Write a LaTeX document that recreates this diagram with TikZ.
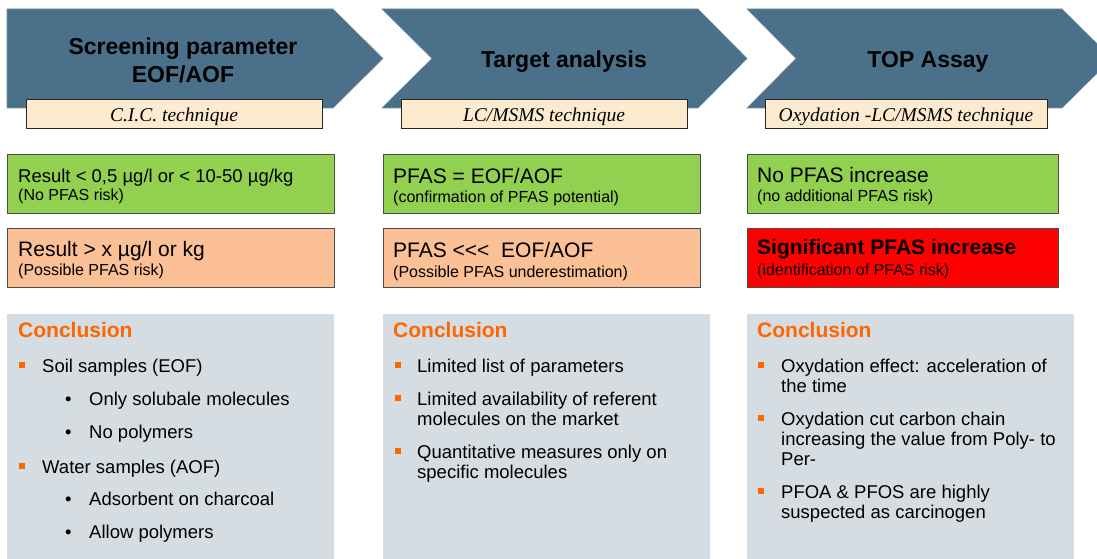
\documentclass[tikz,border=0pt]{standalone}
\usepackage{fontspec}
\setmainfont{Liberation Sans}
\newfontfamily\techfont{Liberation Serif}
\usetikzlibrary{positioning}
\definecolor{chevblue}{RGB}{74,112,138}
\definecolor{techbeige}{RGB}{253,235,208}
\definecolor{okgreen}{RGB}{146,208,80}
\definecolor{riskorange}{RGB}{251,192,150}
\definecolor{riskred}{RGB}{255,0,0}
\definecolor{concgray}{RGB}{213,221,226}
\definecolor{concorange}{RGB}{255,102,0}

\begin{document}
\begin{tikzpicture}[x=1pt, y=-1pt,
    chev/.style ={
        fill=chevblue,
        draw=chevblue!80!white,
        line width=0.6pt
    },
    title/.style ={
        font=\bfseries\fontsize{23}{28}\selectfont,
        align=center,
        anchor=base
    },
    techbox/.style ={
        fill=techbeige,
        draw=black!85,
        line width=0.8pt,
        anchor=north west,
        inner sep=0pt,
        minimum height=29pt
    },
    techtext/.style ={
        font=\techfont\itshape\fontsize{19.5}{22}\selectfont,
        anchor=base
    },
    resbox/.style ={
        draw=black!70,
        line width=0.8pt,
        anchor=north west,
        inner sep=0pt,
        minimum height=59pt
    },
    bigline/.style ={
        font=\fontsize{21}{24}\selectfont,
        anchor=base west,
        inner sep=0pt
    },
    smallline/.style ={
        font=\fontsize{16}{18}\selectfont,
        anchor=base west,
        inner sep=0pt
    },
    concbox/.style ={
        fill=concgray,
        anchor=north west,
        inner sep=0pt,
        minimum width=327pt,
        minimum height=248pt
    },
    conchead/.style ={
        font=\bfseries\fontsize{21}{24}\selectfont,
        text=concorange,
        anchor=base west,
        inner sep=0pt
    },
    sqbullet/.style ={
        fill=concorange,
        minimum size=6pt,
        inner sep=0pt
    },
    item/.style ={
        font=\fontsize{18.5}{20}\selectfont,
        align=left,
        anchor=base west,
        inner sep=0pt
    }
    ]
    \clip (0,0) rectangle (1097,559);

    % process chevrons
    \draw[chev] (7,9) -- (333,9) -- (383,58.5) -- (333,108) -- (7,108) -- cycle;
    \draw[chev] (382,9) -- (698,9) -- (747,58.5) -- (698,108) -- (382,108) -- (432,58.5) -- cycle;
    \draw[chev] (747,9) -- (1062,9) -- (1112,58.5) -- (1062,108) -- (747,108) -- (796,58.5) -- cycle;

    % base of a multi-line node is its last line
    \node[title] (screen) at (183,83) {Screening parameter\\EOF/AOF};
    \node[title] (target) at (564,68) {Target analysis};
    \node[title] (top) at (928,68) {TOP Assay};

    % techniques
    \foreach \name/\x/\w/\cx/\txt in {cic/26/296/174/{C.I.C. technique},
                                      lc/401/286/544/{LC/MSMS technique},
                                      ox/765/282/906/{Oxydation -LC/MSMS technique}}
    {
        \node[techbox, minimum width=\w pt] (\name) at (\x,99) {};
        \node[techtext] (\name txt) at (\cx,122) {\txt};
    }

    % results
    \node[resbox, fill=okgreen, minimum width=327pt] (ok1) at (7,154) {};
    \node[resbox, fill=riskorange, minimum width=327pt] (risk1) at (7,228) {};
    \node[resbox, fill=okgreen, minimum width=317pt] (ok2) at (383,154) {};
    \node[resbox, fill=riskorange, minimum width=317pt] (risk2) at (383,228) {};
    \node[resbox, fill=okgreen, minimum width=311pt] (ok3) at (747,154) {};
    \node[resbox, fill=riskred, minimum width=311pt] (risk3) at (747,228) {};

    \node[bigline, font=\fontsize{18.5}{20}\selectfont] (ok1a) at (18,182) {Result < 0,5 µg/l or < 10-50 µg/kg};
    \node[smallline] (ok1b) at (18,200) {(No PFAS risk)};
    \node[bigline] (risk1a) at (18,256) {Result > x µg/l or kg};
    \node[smallline] (risk1b) at (18,275) {(Possible PFAS risk)};
    \node[bigline] (ok2a) at (393,183) {PFAS = EOF/AOF};
    \node[smallline] (ok2b) at (393,202) {(confirmation of PFAS potential)};
    \node[bigline] (risk2a) at (393,257) {PFAS <{}<{}<\ \ EOF/AOF};
    \node[smallline] (risk2b) at (393,277) {(Possible PFAS underestimation)};
    \node[bigline] (ok3a) at (757,182) {No PFAS increase};
    \node[smallline] (ok3b) at (757,201) {(no additional PFAS risk)};
    \node[bigline, font=\bfseries\fontsize{21}{24}\selectfont] (risk3a) at (757,254) {Significant PFAS increase};
    \node[smallline] (risk3b) at (757,275) {(identification of PFAS risk)};

    % conclusions
    \foreach \name/\x/\hx in {conc1/7/18, conc2/383/393, conc3/747/757}
    {
        \node[concbox] (\name) at (\x,314) {};
        \node[conchead] (\name head) at (\hx,337) {Conclusion};
    }

    % first line at \y, last line at \ly
    \foreach \name/\bx/\tx/\y/\ly/\txt in {
        s1/21.5/42/372/372/{Soil samples (EOF)},
        s2/21.5/42/473/473/{Water samples (AOF)},
        m1/397.5/417/372/372/{Limited list of parameters},
        m2/397.5/417/405/425/{Limited availability of referent\\molecules on the market},
        m3/397.5/417/458/478/{Quantitative measures only on\\specific molecules},
        t1/761/781/372/392/{Oxydation effect: acceleration of\\the time},
        t2/761/781/425/465/{Oxydation cut carbon chain\\increasing the value from Poly- to\\Per-},
        t3/761/781/498/518/{PFOA \& PFOS are highly\\suspected as carcinogen}}
    {
        \node[sqbullet] (\name sq) at (\bx,\y-7) {};
        \node[item] (\name) at (\tx,\ly) {\txt};
    }

    \foreach \name/\y/\txt in {d1/405/{Only solubale molecules}, d2/438/{No polymers},
                               d3/505/{Adsorbent on charcoal}, d4/538/{Allow polymers}}
    {
        \node[item] (\name dot) at (65,\y) {•};
        \node[item] (\name) at (89,\y) {\txt};
    }
\end{tikzpicture}
\end{document}
